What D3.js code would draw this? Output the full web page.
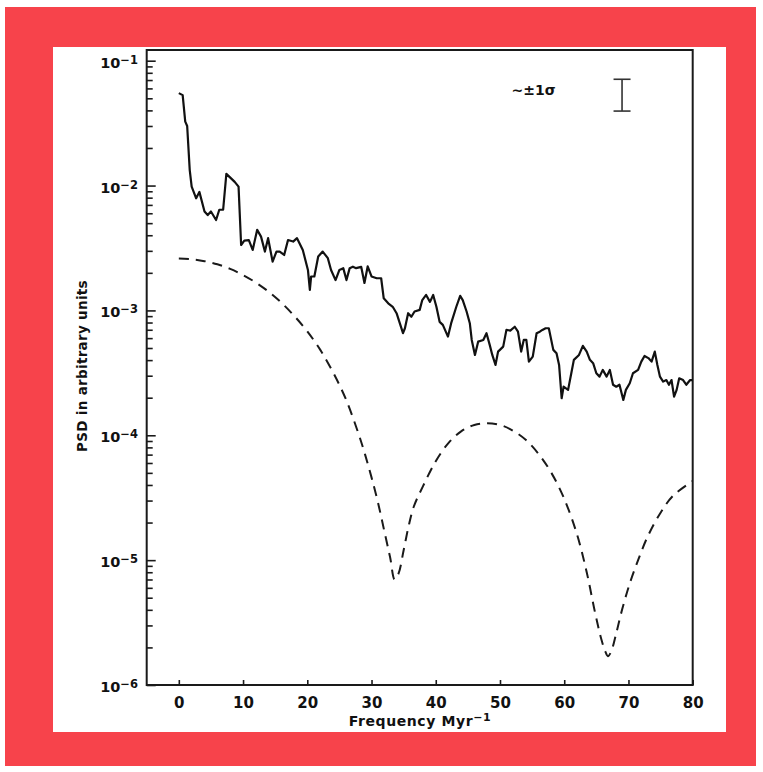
<!DOCTYPE html>
<html>
<head>
<meta charset="utf-8">
<script src="https://cdn.jsdelivr.net/npm/d3@7"></script>
<style>
  html, body { margin: 0; padding: 0; background: #ffffff; }
  svg { display: block; }
</style>
</head>
<body>
<svg id="chart" width="763" height="772"></svg>
<script>
// ---------------- data ----------------
const xTicks = [0, 10, 20, 30, 40, 50, 60, 70, 80];
const yDecades = [1e-6, 1e-5, 1e-4, 1e-3, 1e-2, 1e-1];
const yDecadeExp = ["−6", "−5", "−4", "−3", "−2", "−1"];

// measured spectrum (solid)
const solidFreq = [
  0, 0.6, 1.0, 1.3, 1.7, 2.0, 2.7, 3.2, 4.0, 4.5,
  5.0, 5.8, 6.3, 6.9, 7.4, 8.7, 9.3, 9.7, 10.2, 10.9,
  11.5, 12.2, 12.8, 13.4, 13.9, 14.6, 15.2, 15.7, 16.4, 17.0,
  17.8, 18.4, 19.3, 20.1, 20.4, 20.6, 21.1, 21.7, 22.4, 23.2,
  23.7, 24.4, 25.0, 25.6, 26.1, 26.6, 27.1, 27.6, 28.4, 28.9,
  29.4, 30.0, 30.8, 31.5, 31.9, 32.6, 33.3, 33.9, 34.4, 34.9,
  35.2, 35.7, 36.2, 36.7, 37.5, 37.9, 38.5, 39.1, 39.6, 40.1,
  40.6, 41.1, 41.9, 42.4, 43.2, 43.8, 44.2, 44.8, 45.3, 45.6,
  46.1, 46.6, 47.4, 47.9, 48.4, 48.8, 49.3, 49.7, 50.5, 51.0,
  51.6, 52.3, 52.8, 53.3, 53.7, 54.1, 54.5, 55.1, 55.7, 56.2,
  56.6, 57.1, 57.6, 58.3, 58.8, 59.2, 59.6, 59.9, 60.6, 61.1,
  61.5, 62.3, 62.9, 63.5, 64.0, 64.5, 65.0, 65.5, 66.0, 66.6,
  67.1, 67.6, 68.1, 68.6, 69.2, 69.6, 70.2, 70.7, 71.5, 72.0,
  72.5, 73.1, 73.6, 74.1, 74.5, 74.9, 75.4, 75.9, 76.3, 76.7,
  77.1, 77.5, 77.9, 78.5, 79.0, 79.6, 80.0
];
const solidPSD = [
  0.055, 0.053, 0.0325, 0.030, 0.0133, 0.0098, 0.0079, 0.0089, 0.0062, 0.0058,
  0.0062, 0.0053, 0.0064, 0.0064, 0.0124, 0.0107, 0.0098, 0.00334, 0.00362, 0.00366,
  0.00305, 0.00442, 0.0039, 0.00296, 0.00379, 0.00246, 0.00296, 0.00296, 0.00278, 0.00366,
  0.00356, 0.00379, 0.00305, 0.00211, 0.00146, 0.00187, 0.00187, 0.0027, 0.00296, 0.00262,
  0.00211, 0.00175, 0.00211, 0.00218, 0.00175, 0.00218, 0.00224, 0.00218, 0.00223, 0.00166,
  0.00225, 0.00187, 0.00181, 0.00181, 0.00125, 0.00114, 0.00107, 0.00095, 0.00079, 0.000657,
  0.00072, 0.00095, 0.00089, 0.00098, 0.00101, 0.00121, 0.00133, 0.00117, 0.00133, 0.00107,
  0.00081, 0.000766, 0.000617, 0.00079, 0.00107, 0.00131, 0.00121, 0.00098, 0.00079, 0.00058,
  0.00044, 0.000562, 0.00058, 0.000657, 0.00053, 0.00044, 0.000366, 0.000468, 0.000513, 0.000698,
  0.00069, 0.00074, 0.000676, 0.000468, 0.00058, 0.00058, 0.000389, 0.000427, 0.000657, 0.000676,
  0.000698, 0.00072, 0.00072, 0.000483, 0.000454, 0.000366, 0.000198, 0.000245, 0.000231, 0.000314,
  0.000402, 0.00044, 0.00052, 0.000468, 0.000402, 0.000378, 0.000314, 0.000295, 0.000334, 0.000295,
  0.000334, 0.000254, 0.000245, 0.000254, 0.000192, 0.000231, 0.000261, 0.000314, 0.000334, 0.000389,
  0.000432, 0.000415, 0.000389, 0.000468, 0.000366, 0.000295, 0.000269, 0.000277, 0.000254, 0.000277,
  0.000204, 0.000231, 0.000286, 0.000277, 0.000254, 0.000277, 0.000277
];

// spectral window (dashed)
const dashFreq = [
  0, 2, 4, 6, 8, 10, 12, 14, 16, 18,
  20, 22, 24, 26, 28, 29, 30, 31, 32, 32.9,
  33.6, 34.2, 35.0, 35.8, 36.6, 38, 40, 42, 44, 46,
  48, 50, 52, 54, 56, 58, 60, 62, 63.5, 64.8,
  65.8, 66.4, 66.8, 67.3, 68.1, 69.0, 70.2, 71.5, 73, 75,
  77, 80
];
const dashPSD = [
  2.6e-3, 2.57e-3, 2.48e-3, 2.34e-3, 2.15e-3, 1.92e-3, 1.67e-3, 1.41e-3, 1.15e-3, 9.0e-4,
  6.8e-4, 4.85e-4, 3.2e-4, 1.95e-4, 1.02e-4, 7.0e-5, 4.6e-5, 2.9e-5, 1.7e-5, 1.05e-5,
  7.0e-6, 7.8e-6, 1.2e-5, 1.9e-5, 2.7e-5, 3.9e-5, 6.2e-5, 8.7e-5, 1.08e-4, 1.21e-4,
  1.25e-4, 1.21e-4, 1.09e-4, 9.2e-5, 7.1e-5, 5.0e-5, 3.1e-5, 1.6e-5, 8.0e-6, 3.8e-6,
  2.3e-6, 1.85e-6, 1.7e-6, 1.85e-6, 2.6e-6, 4.0e-6, 6.5e-6, 1.0e-5, 1.55e-5, 2.4e-5,
  3.3e-5, 4.3e-5
];

// error-bar annotation
const errBarFreq = 69;
const errBarLo = 0.0395;
const errBarHi = 0.071;
const errLabel = "~±1σ";
const errLabelFreq = 51.8;
const errLabelPSD = 0.053;

// ---------------- drawing ----------------
const svg = d3.select("#chart");
const FONT = "'DejaVu Sans', 'Liberation Sans', sans-serif";

// border
svg.append("rect").attr("x", 5).attr("y", 7).attr("width", 751).attr("height", 759).attr("fill", "#f7434b");
svg.append("rect").attr("x", 53).attr("y", 47).attr("width", 673).attr("height", 685).attr("fill", "#ffffff");

const x = d3.scaleLinear().domain([-5, 80]).range([146.7, 692.7]);
const y = d3.scaleLog().domain([1e-6, 1e-1]).range([685, 60.7]);
const frameTop = 50;

// minor ticks
const minorTicks = [];
yDecades.slice(0, -1).forEach(d => { for (let k = 2; k <= 9; k++) minorTicks.push(d * k); });

const gMinor = svg.append("g").attr("transform", `translate(${x(-5)},0)`)
  .call(d3.axisLeft(y).tickValues(minorTicks).tickSize(-6).tickFormat(""));
const gMajor = svg.append("g").attr("transform", `translate(${x(-5)},0)`)
  .call(d3.axisLeft(y).tickValues(yDecades).tickSize(-9).tickFormat(""));
[gMinor, gMajor].forEach(g => {
  g.select(".domain").remove();
  g.selectAll(".tick line").attr("stroke", "#1a1a1a").attr("stroke-width", 1.6);
});

// y tick labels
yDecades.forEach((d, i) => {
  const t = svg.append("text")
    .attr("x", 138).attr("y", y(d) + 7)
    .attr("text-anchor", "end")
    .attr("font-family", FONT).attr("font-weight", "bold").attr("font-size", 14.5)
    .attr("fill", "#111");
  t.append("tspan").text("10");
  t.append("tspan").attr("font-size", 11.5).attr("dy", -4).text(yDecadeExp[i]);
});

// x axis
const gx = svg.append("g").attr("transform", `translate(0,${y(1e-6)})`)
  .call(d3.axisBottom(x).tickValues(xTicks).tickSize(-5).tickPadding(12).tickFormat(d3.format("d")));
gx.select(".domain").remove();
gx.selectAll(".tick line").attr("stroke", "#1a1a1a").attr("stroke-width", 1.6);
gx.selectAll(".tick text")
  .attr("font-family", FONT).attr("font-weight", "bold").attr("font-size", 15).attr("fill", "#111");

// frame
svg.append("rect")
  .attr("x", x(-5)).attr("y", frameTop)
  .attr("width", x(80) - x(-5)).attr("height", y(1e-6) - frameTop)
  .attr("fill", "none").attr("stroke", "#1a1a1a").attr("stroke-width", 2);

// clip
svg.append("clipPath").attr("id", "plotclip").append("rect")
  .attr("x", x(-5)).attr("y", frameTop)
  .attr("width", x(80) - x(-5)).attr("height", y(1e-6) - frameTop);

svg.append("path")
  .datum(d3.zip(dashFreq, dashPSD))
  .attr("clip-path", "url(#plotclip)")
  .attr("d", d3.line().x(d => x(d[0])).y(d => y(d[1])).curve(d3.curveCatmullRom))
  .attr("fill", "none").attr("stroke", "#1a1a1a").attr("stroke-width", 2)
  .attr("stroke-dasharray", "10,7");

svg.append("path")
  .datum(d3.zip(solidFreq, solidPSD))
  .attr("clip-path", "url(#plotclip)")
  .attr("d", d3.line().x(d => x(d[0])).y(d => y(d[1])))
  .attr("fill", "none").attr("stroke", "#111").attr("stroke-width", 2.2)
  .attr("stroke-linejoin", "round");

// error bar annotation
const ebx = x(errBarFreq);
const eb = svg.append("g").attr("stroke", "#333").attr("stroke-width", 1.6);
eb.append("line").attr("x1", ebx).attr("x2", ebx).attr("y1", y(errBarHi)).attr("y2", y(errBarLo));
eb.append("line").attr("x1", ebx - 8.5).attr("x2", ebx + 8.5).attr("y1", y(errBarHi)).attr("y2", y(errBarHi));
eb.append("line").attr("x1", ebx - 8.5).attr("x2", ebx + 8.5).attr("y1", y(errBarLo)).attr("y2", y(errBarLo));

svg.append("text")
  .attr("x", x(errLabelFreq)).attr("y", y(errLabelPSD))
  .attr("font-family", FONT).attr("font-weight", "bold").attr("font-size", 14)
  .attr("fill", "#111").text(errLabel);

// axis titles
const xt = svg.append("text")
  .attr("x", 420).attr("y", 726).attr("text-anchor", "middle")
  .attr("font-family", FONT).attr("font-weight", "bold").attr("font-size", 14)
  .attr("letter-spacing", 0.6).attr("fill", "#111");
xt.append("tspan").text("Frequency  Myr");
xt.append("tspan").attr("font-size", 11).attr("dy", -5).text("−1");

svg.append("text")
  .attr("transform", "translate(87,366) rotate(-90)")
  .attr("text-anchor", "middle")
  .attr("font-family", FONT).attr("font-weight", "bold").attr("font-size", 13.5)
  .attr("letter-spacing", 0.3).attr("fill", "#111")
  .text("PSD in arbitrary units");
</script>
</body>
</html>
